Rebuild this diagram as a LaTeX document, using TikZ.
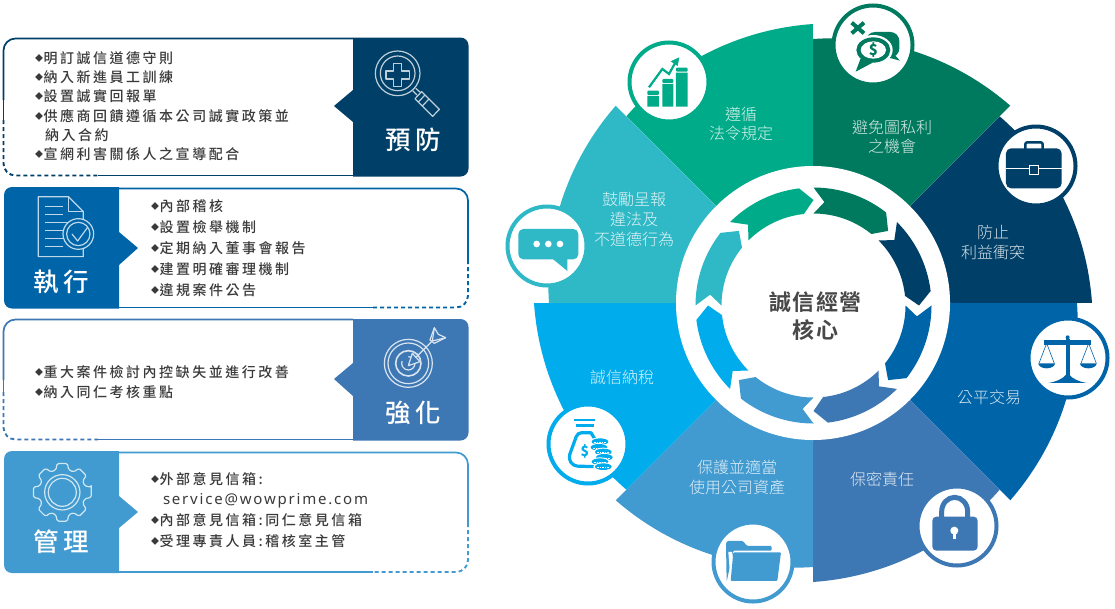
\documentclass[tikz,border=0pt]{standalone}
\usepackage{fontspec}
\setmainfont{Noto Sans CJK TC}
\newfontfamily\cjkls[LetterSpace=18]{Noto Sans CJK TC Medium}
\newfontfamily\latls[LetterSpace=12]{Noto Sans}
\newfontfamily\ttl[LetterSpace=16]{Noto Sans CJK TC Medium}
\newfontfamily\seclab{Noto Sans CJK TC Light}
\newfontfamily\centerf[LetterSpace=7]{Noto Sans CJK TC Bold}
\definecolor{cA}{HTML}{00AB8A}
\definecolor{cB}{HTML}{007A5E}
\definecolor{cC}{HTML}{004068}
\definecolor{cD}{HTML}{0064A8}
\definecolor{cE}{HTML}{3E78B4}
\definecolor{cF}{HTML}{419AD0}
\definecolor{cG}{HTML}{00ACEB}
\definecolor{cH}{HTML}{2FB8C6}
\definecolor{txt}{HTML}{3A3A3A}
\definecolor{coretxt}{HTML}{484848}
\tikzset{
  every node/.style={inner sep=0pt,outer sep=0pt},
  listline/.style={anchor=base west,text=txt,font=\fontsize{14}{14}\selectfont\cjkls},
  titletext/.style={text=white,font=\fontsize{25.5}{25.5}\selectfont\ttl},
  seclabel/.style={font=\fontsize{16}{16}\selectfont\seclab,anchor=center},
  frameline/.style={line width=1.7pt},
  framedash/.style={line width=1.9pt,dash pattern=on 4pt off 3pt},
  iconring/.style={line width=4pt,fill=white},
  outlineicon/.style={line width=1.2pt,line join=round},
  zthird/.style={x=0.3333pt,y=-0.3333pt}
}
\newcommand{\bul}{\makebox[8.6pt][l]{\raisebox{1.3pt}{\fontsize{8}{8}\selectfont ◆}}}
\newcommand{\sectorwedge}[2]{%
  \fill[#2] (813,303) -- plot[variable=\t,domain=0:1,samples=40]
    ({813+(264+15*\t)*cos(#1-45*\t)},{303-(264+15*\t)*sin(#1-45*\t)}) -- cycle;}
\newcommand{\ringarrow}[2]{%
  \fill[#2] plot[variable=\t,domain=0:1,samples=30]
    ({813.5+118*cos(#1-38*\t)},{305.5-118*sin(#1-38*\t)})
    -- ({813.5+105.5*cos(#1-45)},{305.5-105.5*sin(#1-45)})
    -- plot[variable=\t,domain=1:0,samples=30]
    ({813.5+92*cos(#1-39*\t)},{305.5-92*sin(#1-39*\t)})
    -- ({813.5+104*cos(#1-6)},{305.5-104*sin(#1-6)}) -- cycle;}
\newcommand{\iconcircle}[3]{\draw[iconring,draw=#3] (#1,#2) circle (39.5);}
\begin{document}
\begin{tikzpicture}[x=1pt,y=-1pt]
\useasboundingbox (0,0) rectangle (1115,608);
\fill[white] (0,0) rectangle (1115,608);

% ---- panel 1
\draw[frameline,cC,rounded corners=12] (353,38.5) -- (3.5,38.5) -- (3.5,100);
\draw[frameline,cC] (3.5,100) -- (3.5,120);
\draw[framedash,cC,rounded corners=12] (3.5,120) -- (3.5,175.5) -- (98,175.5);
\draw[frameline,cC] (98,175.5) -- (353,175.5);
\fill[cC] (353,37.5) [rounded corners=8] -- (468.5,37.5) -- (468.5,176.5) [sharp corners] -- (353,176.5) -- (353,122) -- (334,106) -- (353,90) -- cycle;
\node[listline] (a1) at (35,63) {\bul 明訂誠信道德守則};
\node[listline] (a2) at (35,82) {\bul 納入新進員工訓練};
\node[listline] (a3) at (35,101) {\bul 設置誠實回報單};
\node[listline] (a4) at (35,121) {\bul 供應商回饋遵循本公司誠實政策並};
\node[listline] (a5) at (45,140) {納入合約};
\node[listline] (a6) at (35,159) {\bul 宣網利害關係人之宣導配合};
\node[titletext] (t1) at (413,140) {預防};
\begin{scope}[shift={(370,45)},zthird,y=-0.3333pt,draw=white!75!cC,outlineicon]
  \draw (83,85) circle (67);
  \draw (83,85) circle (52);
  \draw (71,55) -- (95,55) -- (95,78) -- (118,78) -- (118,102) -- (95,102) -- (95,125) -- (71,125) -- (71,102) -- (48,102) -- (48,78) -- (71,78) -- cycle;
  \draw (128,137) -- (141,150) (137,130) -- (152,143);
  \draw (155,140) -- (208,193) -- (188,214) -- (135,161) -- cycle;
  \draw (165,150) -- (145,171) (177,162) -- (157,183);
\end{scope}

% ---- panel 2
\draw[frameline,cD,rounded corners=12] (119,188.5) -- (468,188.5) -- (468,245);
\draw[frameline,cD] (468,245) -- (468,260);
\draw[framedash,cD,rounded corners=12] (468,260) -- (468,307.5) -- (373,307.5);
\draw[frameline,cD] (373,307.5) -- (119,307.5);
\fill[cD] (119,187) [rounded corners=8] -- (4,187) -- (4,308.5) [sharp corners] -- (119,308.5) -- (119,265) -- (138,248) -- (119,232) -- cycle;
\node[listline] (b1) at (151,211) {\bul 內部稽核};
\node[listline] (b2) at (151,232) {\bul 設置檢舉機制};
\node[listline] (b3) at (151,253) {\bul 定期納入董事會報告};
\node[listline] (b4) at (151,274) {\bul 建置明確審理機制};
\node[listline] (b5) at (151,295) {\bul 違規案件公告};
\node[titletext] (t2) at (61.5,282) {執行};
\begin{scope}[shift={(0,30)},zthird,y=-0.3333pt,draw=white!75!cD,outlineicon]
  \draw (115,500) -- (205,500) -- (250,545) -- (250,680) -- (115,680) -- cycle;
  \draw (205,500) -- (205,545) -- (250,545);
  \draw (135,530) -- (190,530) (135,553) -- (190,553) (135,578) -- (205,578) (135,602) -- (190,602) (135,626) -- (190,626) (135,650) -- (190,650);
  \fill[cD,draw=white!75!cD] (235,612) circle (46);
  \draw (235,612) circle (35);
  \draw (216,612) -- (233,633) -- (263,592);
\end{scope}

% ---- panel 3
\draw[frameline,cE,rounded corners=12] (353,319.5) -- (3.5,319.5) -- (3.5,380);
\draw[frameline,cE] (3.5,380) -- (3.5,392);
\draw[framedash,cE,rounded corners=12] (3.5,392) -- (3.5,439.5) -- (98,439.5);
\draw[frameline,cE] (98,439.5) -- (353,439.5);
\fill[cE] (353,319) [rounded corners=8] -- (468.5,319) -- (468.5,440.5) [sharp corners] -- (353,440.5) -- (353,396) -- (334,379) -- (353,363) -- cycle;
\node[listline] (c1) at (35,377) {\bul 重大案件檢討內控缺失並進行改善};
\node[listline] (c2) at (35,397) {\bul 納入同仁考核重點};
\node[titletext] (t3) at (413,413) {強化};
\begin{scope}[shift={(375,325)},zthird,y=-0.3333pt,draw=white!80!cE,outlineicon]
  \draw (100,115) circle (72);
  \draw (100,115) circle (61);
  \draw[line width=1.6pt] (100,115) circle (38);
  \draw (100,95) arc (-90:200:20);
  \fill[cE,draw=white!80!cE] (100,122) -- (112,85) -- (135,110) -- cycle;
  \draw (122,98) -- (175,45);
  \draw (165,45) -- (178,8) -- (190,28) -- (212,38) -- (178,55) -- cycle;
  \draw (178,8) -- (172,48) (212,38) -- (172,48);
\end{scope}

% ---- panel 4
\draw[frameline,cF,rounded corners=12] (119,452.5) -- (468,452.5) -- (468,510);
\draw[frameline,cF] (468,510) -- (468,523);
\draw[framedash,cF,rounded corners=12] (468,523) -- (468,572) -- (373,572);
\draw[frameline,cF] (373,572) -- (119,572);
\fill[cF] (119,451) [rounded corners=8] -- (4,451) -- (4,573) [sharp corners] -- (119,573) -- (119,528) -- (138,512) -- (119,496) -- cycle;
\node[listline] (d1) at (151,484) {\bul 外部意見信箱:};
\node[anchor=base west,text=txt,font=\fontsize{15}{15}\selectfont\latls] (d2) at (163,504) {service@wowprime.com};
\node[listline] (d3) at (151,525) {\bul 內部意見信箱:同仁意見信箱};
\node[listline] (d4) at (151,546) {\bul 受理專責人員:稽核室主管};
\node[titletext] (t4) at (61.5,542) {管理};
\begin{scope}[shift={(62.3,492.3)},zthird,y=-0.3333pt,draw=white!75!cF,outlineicon]
  \draw[rounded corners=1.5pt] (-10:88) \foreach \a in {0,45,...,315} {
    -- (\a+10:88) -- (\a+16:70) -- (\a+29:70) -- (\a+35:88)} -- cycle;
  \draw (0,0) circle (53);
  \draw (0,0) circle (42);
\end{scope}

% ---- wheel
\sectorwedge{135}{cA}
\sectorwedge{90}{cB}
\sectorwedge{45}{cC}
\sectorwedge{0}{cD}
\sectorwedge{-45}{cE}
\sectorwedge{-90}{cF}
\sectorwedge{-135}{cG}
\sectorwedge{180}{cH}
\fill[white] (813,303) circle (137);
\ringarrow{135}{cA}
\ringarrow{90}{cB}
\ringarrow{45}{cC}
\ringarrow{0}{cD}
\ringarrow{-45}{cE}
\ringarrow{-90}{cF}
\ringarrow{-135}{cG}
\ringarrow{180}{cH}

\node[text=coretxt,font=\fontsize{22}{22}\selectfont\centerf] (core1) at (815.5,302) {誠信經營};
\node[text=coretxt,font=\fontsize{22}{22}\selectfont\centerf] (core2) at (815.5,330) {核心};

\node[seclabel,text=white!85!cA] (s1a) at (741,114) {遵循};
\node[seclabel,text=white!85!cA] (s1b) at (741,133) {法令規定};
\node[seclabel,text=white!85!cB] (s2a) at (892,127) {避免圖私利};
\node[seclabel,text=white!85!cB] (s2b) at (892,146) {之機會};
\node[seclabel,text=white!85!cC] (s3a) at (993,232) {防止};
\node[seclabel,text=white!85!cC] (s3b) at (993,252) {利益衝突};
\node[seclabel,text=white!85!cD] (s4) at (989,397) {公平交易};
\node[seclabel,text=white!85!cE] (s5) at (882,479) {保密責任};
\node[seclabel,text=white!85!cF] (s6a) at (737,467) {保護並適當};
\node[seclabel,text=white!85!cF] (s6b) at (737,487) {使用公司資產};
\node[seclabel,text=white!85!cG] (s7) at (622,377) {誠信納稅};
\node[seclabel,text=white!85!cH] (s8a) at (634,199) {鼓勵呈報};
\node[seclabel,text=white!85!cH] (s8b) at (634,219) {違法及};
\node[seclabel,text=white!85!cH] (s8c) at (634,239) {不道德行為};

% ---- icon circles
\iconcircle{669}{82}{cA}
\iconcircle{873}{45}{cB}
\iconcircle{1036}{166}{cC}
\iconcircle{1068}{358}{cD}
\iconcircle{957}{526}{cE}
\iconcircle{753}{562}{cF}
\iconcircle{588}{444}{cG}
\iconcircle{547}{246}{cH}

% chart
\begin{scope}[shift={(500,0)},zthird,y=-0.3333pt]
  \fill[cA] (442,288) rectangle (477,320) (487,252) rectangle (520,320) (528,218) rectangle (563,320);
  \fill[cA,rounded corners=1pt] (442,272) rectangle (477,285) (487,237) rectangle (520,249) (528,203) rectangle (563,215);
  \draw[cA,line width=2.2pt] (447,262) -- (487,207) -- (507,222) -- (526,188);
  \fill[cA] (538,172) -- (512,184) -- (533,198) -- cycle;
\end{scope}
% bubbles
\begin{scope}[shift={(840,10)},zthird,y=-0.3333pt]
  \draw[cB,line width=4pt] (35,38) -- (72,70) (72,38) -- (35,70);
  \fill[cB] (160,130) -- (180,152) -- (135,140) -- cycle;
  \fill[cB,rounded corners=9pt] (78,66) rectangle (178,142);
  \fill[white] (100,120) ellipse (58 and 45);
  \fill[cB] (100,120) ellipse (51 and 38);
  \fill[cB] (62,145) -- (47,185) -- (98,158) -- cycle;
  \fill[white] (100,120) ellipse (38 and 26);
  \node[text=cB,font=\fontsize{15}{15}\selectfont\bfseries] (dollar1) at (100,120) {\$};
\end{scope}
% briefcase
\begin{scope}[shift={(800,0)},zthird,y=-0.3333pt]
  \draw[cC,line width=2.5pt,rounded corners=2pt] (676,447) -- (676,427) -- (728,427) -- (728,447);
  \fill[cC,rounded corners=5pt] (618,445) rectangle (785,565);
  \draw[white,line width=1pt] (618,505) -- (785,505);
  \draw[white,line width=1pt,fill=cC] (688,496) rectangle (717,525);
\end{scope}
% scale
\begin{scope}[shift={(800,300)},zthird,y=-0.3333pt]
  \fill[cD] (797,118) rectangle (809,232);
  \fill[cD] (803,112) circle (6);
  \fill[cD] (733,120) rectangle (873,134);
  \fill[cD] (745,249) .. controls (770,245) and (790,235) .. (797,225) -- (809,225) .. controls (816,235) and (836,245) .. (861,249) -- cycle;
  \draw[cD,line width=0.6pt] (717,190) -- (740,130) -- (763,190) (843,190) -- (866,130) -- (889,190);
  \fill[cD] (715,190) -- (765,190) arc (0:180:25 and 15) -- cycle;
  \fill[cD] (840,190) -- (890,190) arc (0:180:25 and 15) -- cycle;
\end{scope}
% lock
\begin{scope}[shift={(800,300)},zthird,y=-0.3333pt]
  \draw[cE,line width=5pt] (425,660) -- (425,635) arc (180:360:39 and 43) -- (503,660);
  \fill[cE,rounded corners=4pt] (397,650) rectangle (533,752);
  \fill[white] (463,692) circle (12);
  \fill[white] (458,692) rectangle (468,716);
\end{scope}
% folder
\begin{scope}[shift={(520,300)},zthird,y=-0.3333pt]
  \fill[cF,rounded corners=1pt] (620,845) -- (618,730) -- (622,723) -- (668,723) -- (682,738) -- (755,738) -- (755,752) -- (640,752) -- cycle;
  \fill[white] (625,756) -- (632,848) -- (640,848) -- (636,756) -- cycle;
  \fill[cF,rounded corners=1pt] (640,757) -- (783,757) -- (772,843) -- (632,843) -- cycle;
\end{scope}
% money bag
\begin{scope}[shift={(555,410)},zthird,y=-0.3333pt]
  \draw[cG,line width=2.4pt] (58,30) -- (120,30) (62,47) -- (118,47);
  \draw[cG,line width=3.2pt,rounded corners=4pt] (110,68) -- (68,68) -- (40,145) -- (55,168) -- (120,170);
  \draw[cG,line width=3.2pt] (108,68) -- (120,88);
  \node[text=cG,font=\fontsize{14}{14}\selectfont\bfseries] (dollar2) at (90,125) {\$};
  \foreach \cx/\cy in {135/95,132/112,145/126,148/142,135/155,145/170}{
    \fill[white] (\cx,\cy) ellipse (30 and 13);
    \fill[cG] (\cx,\cy) ellipse (25 and 10);
    \draw[white,line width=0.5pt,dash pattern=on 1.5pt off 1pt] (\cx-18,\cy+2) -- (\cx+18,\cy+2);
  }
\end{scope}
% chat
\begin{scope}[shift={(500,0)},zthird,y=-0.3333pt]
  \fill[cH,rounded corners=5pt] (55,687) rectangle (235,778);
  \fill[cH] (150,770) -- (202,813) -- (202,770) -- cycle;
  \fill[white] (110,732) circle (10) (145,732) circle (10) (180,732) circle (10);
\end{scope}
\end{tikzpicture}
\end{document}
